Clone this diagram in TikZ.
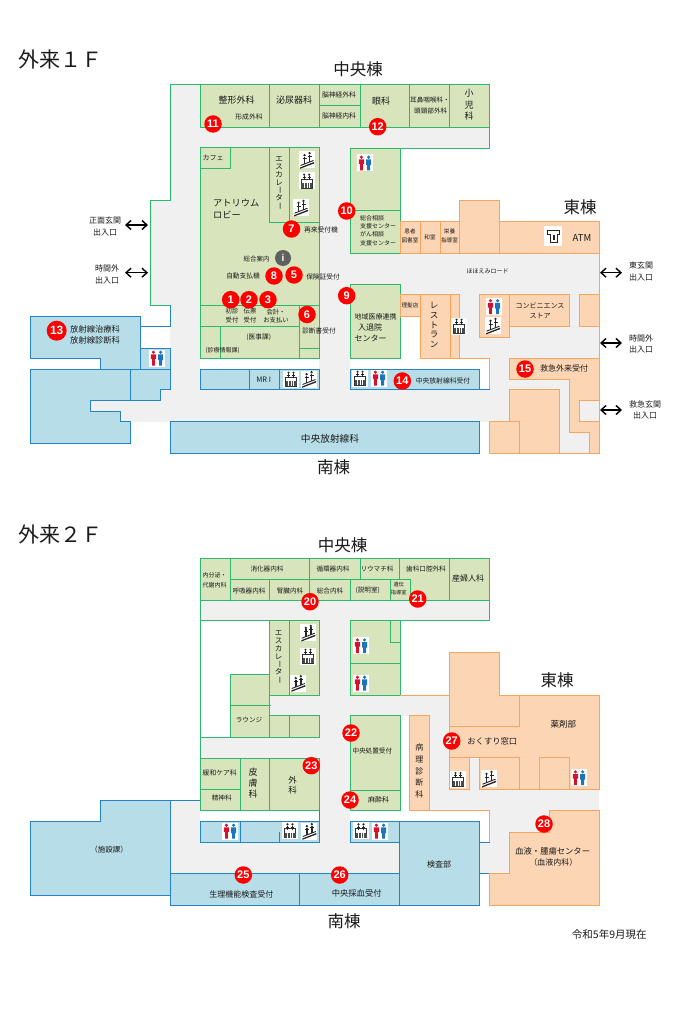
\documentclass[tikz,border=0pt]{standalone}
\usepackage{fontspec}
\setmainfont{Noto Sans CJK JP}
\newfontfamily\badgefont{Liberation Sans}
\usetikzlibrary{arrows.meta}
\definecolor{grfill}{HTML}{D8E4BC}
\definecolor{grline}{HTML}{2DB86E}
\definecolor{blfill}{HTML}{B7DDE8}
\definecolor{blline}{HTML}{2484C6}
\definecolor{orfill}{HTML}{FCD5B4}
\definecolor{orline}{HTML}{F7A45C}
\definecolor{hall}{HTML}{F0F0F0}
\definecolor{txt}{HTML}{1A1A1A}
\definecolor{wcred}{HTML}{D2122E}
\definecolor{wcblue}{HTML}{1C75BC}
\tikzset{
  gr/.style={draw=grline,fill=grfill,line width=.9pt},
  bl/.style={draw=blline,fill=blfill,line width=.9pt},
  orr/.style={draw=orline,fill=orfill,line width=.9pt},
  grl/.style={draw=grline,line width=.9pt},
  bll/.style={draw=blline,line width=.9pt},
  orl/.style={draw=orline,line width=.9pt},
  lab/.style={inner sep=0pt,align=center,text=txt,font=\fontsize{#1}{#1}\selectfont},
  labw/.style={lab=#1,anchor=west},
  badge/.style={circle,fill=red,text=white,inner sep=0pt,minimum size=17.5pt,font=\badgefont\fontsize{11}{11}\selectfont\bfseries},
  dbl/.style={{Straight Barb[length=5pt,width=9pt]}-{Straight Barb[length=5pt,width=9pt]},line width=1.4pt,black},
  wcicon/.pic={
    \fill[white] (-8,-8.5) rectangle (8,8.5);
    \fill[wcred] (-3.6,-5.8) circle[radius=1.7pt];
    \fill[wcred] (-6.2,-3.6) -- (-1,-3.6) -- (-1,1) -- (-2.2,1) -- (-2.2,7.5) -- (-5,7.5) -- (-5,1) -- (-6.2,1) -- cycle;
    \fill[wcblue] (3.6,-5.8) circle[radius=1.7pt];
    \fill[wcblue] (1,-3.6) -- (6.2,-3.6) -- (6.2,2) -- (5,2) -- (5,7.5) -- (2.2,7.5) -- (2.2,2) -- (1,2) -- cycle;
  },
  evicon/.pic={
    \fill[white] (-8,-8.5) rectangle (8,8.5);
    \draw[black!80,line width=.8pt] (-5.5,-2) rectangle (5.5,7);
    \fill[black!70] (-5.5,2) rectangle (5.5,7);
    \foreach \q in {-2.5,2.5}{
      \fill[black!85] (\q,-6.3) circle[radius=1.2pt];
      \draw[black!85,line width=1.2pt] (\q,-5.2) -- (\q,-1);
      \draw[black!85,line width=.7pt] (\q-1.6,-3.8) -- (\q+1.6,-3.8);
    }
    \draw[white,line width=.4pt] (-2.5,2) -- (-2.5,7) (0,2) -- (0,7) (2.5,2) -- (2.5,7);
  },
  stairicon/.pic={
    \fill[white] (-8,-8.5) rectangle (8,8.5);
    \fill[black!85] (-7,7.5) -- (7,2) -- (7,3.5) -- (-7,8.8) -- cycle;
    \draw[black!85,line width=.9pt] (-6.5,5.5) -- (6.5,.5);
    \foreach \q/\r in {-2.5/2.2,2.5/.2}{
      \fill[black!85] (\q,\r-7) circle[radius=1.3pt];
      \draw[black!85,line width=1.4pt] (\q,\r-5.6) -- (\q,\r+2);
      \draw[black!85,line width=.7pt] (\q-2,\r-3.8) -- (\q+2,\r-3.8);
    }
  },
  atmicon/.pic={
    \fill[white] (-9,-10) rectangle (9,10);
    \draw[black!85,line width=1pt] (-6,-5) -- (6,-5) -- (6,-1.5) -- (4,-1.5) -- (4,6) -- (-3,6) -- (-3,-1.5) -- (-6,-1.5) -- cycle;
    \fill[black!85] (-.5,-1) rectangle (1.5,3.5);
  },
}
\newcommand{\esc}[2]{%
  \foreach \ch/\nn/\rr in {エ/0/0,ス/1/0,カ/2/0,レ/3/0,ー/4/-90,タ/5/0,ー/6/-90}{
    \node[lab=7.5,rotate=\rr] at (#1,#2+\nn*7.8) {\ch};
  }}
\begin{document}
\begin{tikzpicture}[x=1pt,y=-1pt]
\useasboundingbox (0,0) rectangle (680,1024);
\fill[white] (0,0) rectangle (680,1024);

%% ========= 1F halls
\fill[hall] (170,84) rectangle (200,421.5);
\fill[hall] (150,200) rectangle (200,305);
\fill[hall] (200,127) rectangle (489,148);
\fill[hall] (319,148) rectangle (350,421.5);
\fill[hall] (350,253.5) rectangle (599,358);
\fill[white] (400,316) rectangle (420,358);
\fill[hall] (200,389) rectangle (319,421.5);
\fill[hall] (90,400) rectangle (170,411);
\fill[hall] (120,411) rectangle (170,421.5);
\fill[hall] (160,389) rectangle (170,400);
\fill[hall] (319,389) rectangle (509,421.5);
\fill[hall] (489,358) rectangle (509,421.5);
\fill[hall] (509,379) rectangle (569,389.5);
\fill[hall] (559,389.5) rectangle (589,453);

%% 1F north row
\draw[gr] (200,84) rectangle (269,127);
\draw[gr] (269,84) rectangle (319,127);
\draw[gr] (319,84) rectangle (360,105);
\draw[gr] (319,105) rectangle (360,127);
\draw[gr] (360,84) rectangle (409,127);
\draw[gr] (409,84) rectangle (449,127);
\draw[gr] (449,84) rectangle (489,127);
\draw[grl] (200,84) -- (170,84) -- (170,200) -- (150,200) -- (150,305) -- (170,305);
\draw[grl] (350,148) -- (489,148) -- (489,127);
%% 1F central block
\draw[gr] (200,147.5) rectangle (319,358);
\draw[gr] (200,147.5) rectangle (230,168.5);
\draw[gr] (269,147.5) rectangle (289,222);
\draw[gr] (289,147.5) rectangle (319,222);
\draw[gr] (200,305) rectangle (299,326);
\draw[gr] (299,305) rectangle (319,348);
\draw[gr] (220,326) rectangle (299,358);
\draw[grl] (200,358) -- (319,358);
%% 1F green east of the hall
\draw[gr] (350,148) rectangle (400,253.5);
\draw[grl] (350,210.5) -- (400,210.5);
\draw[gr] (350,284.5) rectangle (400,358);
%% 1F blue
\draw[bl] (30,316.5) -- (140,316.5) -- (140,369) -- (100,369) -- (100,358) -- (30,358) -- cycle;
\draw[bl] (140,348) rectangle (170,369);
\draw[bl] (30,369) -- (170,369) -- (170,389) -- (160,389) -- (160,400) -- (90,400) -- (90,411) -- (120,411) -- (120,421.5) -- (130,421.5) -- (130,443) -- (30,443) -- cycle;
\draw[bll] (130,369) -- (130,400);
\draw[bll] (170,305) -- (170,326) -- (140,326);
\draw[bl] (200,369) rectangle (319,389);
\draw[bll] (249,369) -- (249,389) (279,369) -- (279,390);
\draw[bl] (350,369) rectangle (479,389);
\draw[bll] (350,389) -- (490,389);
\draw[bl] (170,421.5) rectangle (479,453);
%% 1F orange
\draw[orr] (400,221.5) rectangle (420,253.5);
\draw[orr] (420,221.5) rectangle (440,253.5);
\draw[orr] (440,221.5) rectangle (459,253.5);
\draw[orr] (459,200) rectangle (499,253.5);
\draw[orr] (499,221.5) rectangle (599,253.5);
\draw[orr] (400,294.5) rectangle (420,316);
\draw[orr] (420,294.5) rectangle (450,358);
\draw[orr] (450,294.5) rectangle (459.5,358);
\draw[orl] (459.5,358) -- (489,358) -- (489,389);
\draw[orr] (479,294.5) rectangle (509,337.5);
\draw[orr] (509,294.5) rectangle (569,326);
\draw[orr] (579,294.5) rectangle (599,326);
\draw[orr] (509,358) -- (599,358) -- (599,453) -- (589,453) -- (589,432) -- (569,432) -- (569,379) -- (509,379) -- cycle;
\draw[orl,fill=hall] (579,400) rectangle (599,421.5);
\draw[orr] (509,389.5) -- (559,389.5) -- (559,453) -- (489,453) -- (489,421.5) -- (509,421.5) -- cycle;
\draw[orl] (509,421.5) -- (519,421.5) -- (519,453);
\draw[orl] (559,453) -- (589,453);
\draw[orl] (599,253.5) -- (599,358);

%% ========= 2F halls
\fill[hall] (200,600) rectangle (489,620.5);
\fill[hall] (319,620.5) rectangle (350,873.5);
\fill[hall] (269,695) rectangle (449,715.5);
\fill[hall] (429.5,715.5) rectangle (449,810);
\fill[hall] (449,789.5) rectangle (599,810);
\fill[hall] (469,757.5) rectangle (479,789.5);
\fill[hall] (489,810) rectangle (549.5,832);
\fill[hall] (489,832) rectangle (509,873.5);
\fill[hall] (479,842) rectangle (489,873.5);
\fill[hall] (200,737) rectangle (319,758);
\fill[hall] (170,800) rectangle (200,873.5);
\fill[hall] (200,842) rectangle (399.5,873.5);

%% 2F green
\draw[gr] (200,558) rectangle (230,600);
\draw[gr] (230,558) rectangle (309.5,579.5);
\draw[gr] (230,579.5) rectangle (269,600);
\draw[gr] (269,579.5) rectangle (309.5,600);
\draw[gr] (309.5,558) rectangle (360,579.5);
\draw[gr] (360,558) rectangle (399.5,579.5);
\draw[gr] (309.5,579.5) rectangle (350,600);
\draw[gr] (350,579.5) rectangle (390,600);
\draw[gr] (399.5,558) -- (449,558) -- (449,600) -- (410,600) -- (410,579.5) -- (399.5,579.5) -- cycle;
\draw[gr] (390,579.5) rectangle (410,600);
\draw[gr] (449,558) rectangle (489,600);
\draw[grl] (200,600) -- (200,810);
\draw[grl] (200,620.5) -- (319,620.5) (350,620.5) -- (489,620.5) -- (489,600);
\draw[gr] (269,620.5) rectangle (289,695);
\draw[gr] (289,620.5) rectangle (319,695);
\draw[gr] (230,674) rectangle (269,705);
\draw[gr] (230,705) rectangle (269,737);
\draw[grl] (269,705) -- (271,705);
\draw[gr] (269,715.5) rectangle (289,737);
\draw[gr] (289,715.5) rectangle (319,737);
\draw[grl] (200,737) -- (319,737);
\draw[gr] (200,758) rectangle (240,789.5);
\draw[gr] (200,789.5) rectangle (240,810);
\draw[gr] (240,758) rectangle (269,810);
\draw[gr] (269,758) rectangle (319,810);
\draw[gr] (350,620.5) rectangle (400,663.5);
\draw[gr] (390,620.5) rectangle (400,642.5);
\draw[gr] (350,663.5) rectangle (400,695);
\draw[gr] (350,715.5) rectangle (400,790);
\draw[gr] (350,790) rectangle (400,810);
%% 2F blue
\draw[bl] (30,821) -- (100,821) -- (100,800) -- (170,800) -- (170,895.5) -- (30,895.5) -- cycle;
\draw[bll] (170,800) -- (200,800);
\draw[bl] (200,821) rectangle (319,842);
\draw[bll] (240,821) -- (240,842) (279,832) -- (279,842) (319,810) -- (319,821);
\draw[bl] (170,873.5) rectangle (299.5,905.5);
\draw[bl] (299.5,873.5) rectangle (399.5,905.5);
\draw[bl] (350,821) rectangle (399.5,842);
\draw[bl] (399.5,821) rectangle (479,905.5);
\draw[bll] (479,842) -- (490,842) (479,873.5) -- (490,873.5);
%% 2F orange
\draw[orl] (400,695) -- (449,695);
\draw[orl] (429.5,810) -- (489,810) -- (489,842);
\draw[orr] (409.5,715.5) rectangle (429.5,810);
\draw[orr] (449,652.5) -- (499,652.5) -- (499,695) -- (599,695) -- (599,789.5) -- (519,789.5) -- (519,757.5) -- (449,757.5) -- cycle;
\draw[orl] (499,695) -- (519,695) -- (519,726.5) -- (449,726.5);
\draw[orr] (449,757.5) rectangle (469,789.5);
\draw[orr] (479,757.5) rectangle (519,789.5);
\draw[orr] (539,757.5) rectangle (569,789.5);
\draw[orr] (489,873.5) -- (509,873.5) -- (509,832) -- (549.5,832) -- (549.5,810) -- (599,810) -- (599,905.5) -- (489,905.5) -- cycle;

%% ========= icons 1F
\pic at (365,163) {wcicon};
\pic at (157,358) {wcicon};
\pic at (379,378) {wcicon};
\pic at (494,306.5) {wcicon};
\pic at (360,378) {evicon};
\pic at (291,379) {evicon};
\pic at (306.7,181) {evicon};
\pic at (459,326) {evicon};
\pic at (307,160) {stairicon};
\pic at (301,207.7) {stairicon};
\pic at (309,379) {stairicon};
\pic at (493,325.7) {stairicon};
\pic at (553,236) {atmicon};
\fill[gray!75!black] (283,258) circle[radius=8pt];
\node[inner sep=0pt,text=white,font=\badgefont\fontsize{10}{10}\selectfont\bfseries] (infoi) at (283,258) {i};
%% icons 2F
\pic at (361,645.7) {wcicon};
\pic at (361,683) {wcicon};
\pic at (230,831) {wcicon};
\pic at (380,831) {wcicon};
\pic at (579,777.7) {wcicon};
\pic at (308,656) {evicon};
\pic at (290,830.7) {evicon};
\pic at (361,830.7) {evicon};
\pic at (458,779.3) {evicon};
\pic at (308.3,632.7) {stairicon};
\pic at (298.3,683) {stairicon};
\pic at (309.3,831) {stairicon};
\pic at (489,778.7) {stairicon};

%% ========= arrows
\coordinate (a1l) at (125,225); \coordinate (a1r) at (148,225);
\coordinate (a2l) at (125,272.7); \coordinate (a2r) at (148,272.7);
\coordinate (a3l) at (600,272.7); \coordinate (a3r) at (622,272.7);
\coordinate (a4l) at (600,343); \coordinate (a4r) at (622,343);
\coordinate (a5l) at (600,410); \coordinate (a5r) at (622,410);
\draw[dbl] (a1l) -- (a1r);
\draw[dbl] (a2l) -- (a2r);
\draw[dbl] (a3l) -- (a3r);
\draw[dbl] (a4l) -- (a4r);
\draw[dbl] (a5l) -- (a5r);

%% ========= text 1F
\node[labw=21] at (18,60) {外来１Ｆ};
\node[lab=16.5] at (358,69) {中央棟};
\node[lab=16.5] at (580,207) {東棟};
\node[lab=16.5] at (333.5,467) {南棟};
\node[lab=9] at (236.7,100) {整形外科};
\node[lab=6.8] at (249,117) {形成外科};
\node[lab=9] at (294,100) {泌尿器科};
\node[lab=6.8] at (339,94.5) {脳神経外科};
\node[lab=6.8] at (339,116) {脳神経内科};
\node[lab=9] at (381,101) {眼科};
\node[lab=6.6] at (430,100) {耳鼻咽喉科・};
\node[lab=6.6] at (430.7,111) {頭頸部外科};
\node[lab=9] at (469,93) {小};
\node[lab=9] at (469,105) {児};
\node[lab=9] at (469,116) {科};
\node[lab=7] at (213,158) {カフェ};
\node[labw=9.2] at (213,203) {アトリウム};
\node[labw=9.2] at (213,215) {ロビー};
\esc{279}{159}
\node[lab=8] at (105,220) {正面玄関};
\node[lab=8] at (105,232) {出入口};
\node[lab=8] at (107,268) {時間外};
\node[lab=8] at (107,280) {出入口};
\node[lab=8] at (641,265) {東玄関};
\node[lab=8] at (641,277) {出入口};
\node[lab=8] at (641,338) {時間外};
\node[lab=8] at (641,349) {出入口};
\node[lab=8] at (645,404) {救急玄関};
\node[lab=8] at (645,415) {出入口};
\node[lab=6.5] at (256.7,259) {総合案内};
\node[lab=6.8] at (321,230) {再来受付機};
\node[labw=6] at (360,218) {総合相談};
\node[lab=6] at (378,226) {支援センター};
\node[labw=6] at (360,234.5) {がん相談};
\node[lab=6] at (378,243) {支援センター};
\node[lab=5.6] at (410,231.5) {患者};
\node[lab=5.6] at (410,240) {図書室};
\node[lab=5.6] at (430,237) {和室};
\node[lab=5.6] at (449.5,231.5) {栄養};
\node[lab=5.6] at (449.5,240) {指導室};
\node[lab=9.5] at (582,237.7) {ATM};
\node[lab=6] at (487.7,271.7) {ほほえみロード};
\node[lab=6.7] at (243,275.7) {自動支払機};
\node[lab=6.7] at (323,276.7) {保険証受付};
\node[lab=6.3] at (232,311.5) {初診};
\node[lab=6.3] at (232,320) {受付};
\node[lab=6.3] at (250,311.5) {伝票};
\node[lab=6.3] at (250,320) {受付};
\node[lab=6.3] at (276,312) {会計・};
\node[lab=6.3] at (276,320.5) {お支払い};
\node[lab=6.7] at (319,330.7) {診断書受付};
\node[lab=6.7] at (258.7,337.7) {(医事課)};
\node[lab=6] at (222.7,350.7) {(診療情報課)};
\node[labw=8.3] at (70,329) {放射線治療科};
\node[labw=8.3] at (70,340) {放射線診断科};
\node[lab=7.5] at (263.7,379.3) {MR I};
\node[lab=9.7] at (330,439.3) {中央放射線科};
\node[lab=5.6] at (410,305.7) {理髪店};
\node[lab=8.5] at (434,325) {レ\\[1.2pt]ス\\[1.2pt]ト\\[1.2pt]ラ\\[1.2pt]ン};
\node[lab=7] at (540,305.7) {コンビニエンス};
\node[lab=7] at (540,316) {ストア};
\node[lab=8] at (564,368.3) {救急外来受付};
\node[lab=6.8] at (443,380.7) {中央放射線科受付};
\node[lab=7] at (375.7,316.7) {地域医療連携};
\node[lab=8] at (370,327) {入退院};
\node[lab=8] at (370.7,338) {センター};

%% ========= text 2F
\node[labw=21] at (18,534) {外来２Ｆ};
\node[lab=16.5] at (342.7,545) {中央棟};
\node[lab=16.5] at (557,680.7) {東棟};
\node[lab=16.5] at (344,921.7) {南棟};
\node[lab=6] at (214.7,575.7) {内分泌・};
\node[lab=6] at (214.7,585) {代謝内科};
\node[lab=6.6] at (267,569) {消化器内科};
\node[lab=6.6] at (249,590.7) {呼吸器内科};
\node[lab=6.6] at (290,590.7) {腎臓内科};
\node[lab=6.6] at (333,569) {循環器内科};
\node[lab=6.6] at (330,590.7) {総合内科};
\node[lab=6.6] at (377,569) {リウマチ科};
\node[lab=6.6] at (426,569) {歯科口腔外科};
\node[lab=8] at (468,578) {産婦人科};
\node[lab=6.6] at (367.7,590.7) {(説明室)};
\node[lab=5.2] at (398.7,585) {遺伝};
\node[lab=5.2] at (398.7,592.7) {指導室};
\esc{278.7}{633}
\node[lab=6.6] at (249,720) {ラウンジ};
\node[lab=6.6] at (372.3,751) {中央処置受付};
\node[lab=8] at (419.3,771) {病\\[3.7pt]理\\[3.7pt]診\\[3.7pt]断\\[3.7pt]科};
\node[lab=7] at (378.7,800.3) {麻酔科};
\node[lab=6.8] at (219.7,773.3) {緩和ケア科};
\node[lab=6.6] at (221.7,798.3) {精神科};
\node[lab=9] at (253,771.7) {皮};
\node[lab=9] at (253,783.3) {膚};
\node[lab=9] at (253,794) {科};
\node[lab=8.5] at (292.7,780) {外};
\node[lab=8.5] at (292.7,790.7) {科};
\node[lab=7.5] at (109,850) {（施設課）};
\node[lab=8] at (241.3,894) {生理機能検査受付};
\node[lab=8.3] at (356.7,893) {中央採血受付};
\node[lab=8] at (439,864) {検査部};
\node[lab=8.3] at (492.3,741.7) {おくすり窓口};
\node[lab=8.5] at (563.3,724.3) {薬剤部};
\node[lab=8.3] at (552.7,851) {血液・腫瘍センター};
\node[lab=8] at (553.3,862.7) {（血液内科）};
\node[lab=10.5] at (609.3,934.3) {令和5年9月現在};

%% ========= badges
\node[badge] (b1) at (230.7,299.7) {1};
\node[badge] (b2) at (249,299.7) {2};
\node[badge] (b3) at (268,299.7) {3};
\node[badge] (b5) at (294,275) {5};
\node[badge] (b6) at (307,314.5) {6};
\node[badge] (b7) at (291.5,229) {7};
\node[badge] (b8) at (274,276) {8};
\node[badge] (b9) at (346.7,295.7) {9};
\node[badge] (b10) at (346.7,211) {10};
\node[badge] (b11) at (213,124) {11};
\node[badge] (b12) at (377.7,126.7) {12};
\node[badge,minimum size=20pt,font=\badgefont\fontsize{12}{12}\selectfont\bfseries] (b13) at (56.7,330.7) {13};
\node[badge] (b14) at (402.3,381) {14};
\node[badge] (b15) at (525,369) {15};
\node[badge] (b20) at (310,601.7) {20};
\node[badge] (b21) at (417.7,599) {21};
\node[badge] (b22) at (351,733) {22};
\node[badge] (b23) at (311.3,765.7) {23};
\node[badge] (b24) at (350,800) {24};
\node[badge] (b25) at (243.3,875) {25};
\node[badge] (b26) at (339.7,875) {26};
\node[badge] (b27) at (451.7,741) {27};
\node[badge] (b28) at (544,824) {28};
\end{tikzpicture}
\end{document}
